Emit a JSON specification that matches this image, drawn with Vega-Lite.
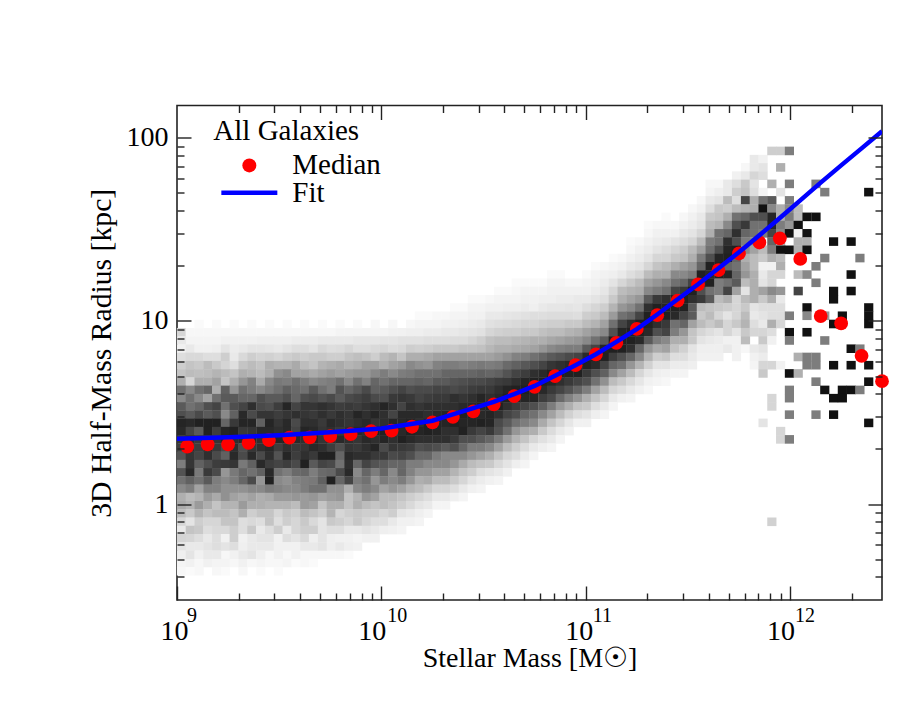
{"$schema":"https://vega.github.io/schema/vega-lite/v6.json","width":705,"height":494.5,"autosize":{"type":"none"},"padding":{"left":177,"top":105.5,"right":31,"bottom":106},"config":{"view":{"stroke":"#222","strokeWidth":1.6},"font":"Liberation Serif"},"resolve":{"axis":{"x":"independent","y":"independent"}},"layer":[{"data":{"values":[
{"x":9.022,"y":0.938,"d":15},{"x":9.065,"y":0.938,"d":3},{"x":9.108,"y":0.938,"d":3},{"x":9.151,"y":0.938,"d":3},{"x":9.194,"y":0.938,"d":3},{"x":9.237,"y":0.938,"d":3},{"x":9.28,"y":0.938,"d":3},{"x":9.323,"y":0.938,"d":3},{"x":9.366,"y":0.938,"d":3},{"x":9.41,"y":0.938,"d":3},{"x":9.453,"y":0.938,"d":3},{"x":9.496,"y":0.938,"d":3},{"x":9.539,"y":0.938,"d":3},{"x":9.582,"y":0.938,"d":3},{"x":9.625,"y":0.938,"d":3},{"x":9.668,"y":0.938,"d":3},{"x":9.712,"y":0.938,"d":3},{"x":9.755,"y":0.938,"d":3},{"x":9.798,"y":0.938,"d":4},{"x":9.841,"y":0.938,"d":4},{"x":9.884,"y":0.938,"d":4},{"x":9.927,"y":0.938,"d":4},{"x":9.97,"y":0.938,"d":4},{"x":10.013,"y":0.938,"d":4},{"x":10.056,"y":0.938,"d":5},{"x":10.1,"y":0.938,"d":5},{"x":10.143,"y":0.938,"d":6},{"x":10.186,"y":0.938,"d":6},{"x":10.229,"y":0.938,"d":7},{"x":10.272,"y":0.938,"d":7},
{"x":9.108,"y":0.983,"d":2},{"x":9.194,"y":0.983,"d":2},{"x":9.28,"y":0.983,"d":2},{"x":9.366,"y":0.983,"d":2},{"x":9.453,"y":0.983,"d":2},{"x":9.539,"y":0.983,"d":2},{"x":9.625,"y":0.983,"d":2},{"x":9.712,"y":0.983,"d":2},{"x":9.798,"y":0.983,"d":2},{"x":9.884,"y":0.983,"d":2},{"x":9.97,"y":0.983,"d":3},{"x":10.056,"y":0.983,"d":3},{"x":10.143,"y":0.983,"d":3},{"x":10.186,"y":0.983,"d":4},{"x":10.229,"y":0.983,"d":4},{"x":10.272,"y":0.983,"d":4},
{"x":10.186,"y":1.028,"d":2},{"x":10.229,"y":1.028,"d":2},{"x":10.272,"y":1.028,"d":3},{"x":10.315,"y":1.028,"d":3},{"x":10.358,"y":1.073,"d":2},{"x":10.401,"y":1.073,"d":2},{"x":10.445,"y":1.118,"d":2},{"x":10.488,"y":1.118,"d":2},{"x":10.531,"y":1.118,"d":3},{"x":10.574,"y":1.163,"d":2},{"x":10.617,"y":1.163,"d":2},{"x":10.66,"y":1.208,"d":2},{"x":10.703,"y":1.208,"d":2},{"x":10.746,"y":1.208,"d":2},{"x":10.79,"y":1.208,"d":2},{"x":10.833,"y":1.253,"d":2},{"x":10.876,"y":1.253,"d":2},{"x":10.919,"y":1.208,"d":3},{"x":10.962,"y":1.208,"d":3},{"x":11.005,"y":1.253,"d":2},{"x":11.048,"y":1.298,"d":2},{"x":11.135,"y":1.343,"d":2},{"x":11.221,"y":1.433,"d":2},{"x":11.307,"y":1.523,"d":2},{"x":11.393,"y":1.568,"d":2},{"x":11.437,"y":1.478,"d":5},{"x":11.437,"y":1.523,"d":3},{"x":11.48,"y":1.523,"d":5},{"x":11.48,"y":1.568,"d":3},{"x":11.523,"y":1.613,"d":3},{"x":11.566,"y":1.658,"d":3},{"x":11.609,"y":1.748,"d":3},{"x":11.652,"y":1.748,"d":3},
{"x":9.065,"y":0.893,"d":4},{"x":9.108,"y":0.893,"d":4},{"x":9.151,"y":0.893,"d":4},{"x":9.194,"y":0.893,"d":4},{"x":9.237,"y":0.893,"d":5},{"x":9.28,"y":0.893,"d":5},{"x":9.323,"y":0.893,"d":5},{"x":9.366,"y":0.893,"d":5},
{"x":9.237,"y":-0.277,"d":3},{"x":9.453,"y":-0.277,"d":3},{"x":9.539,"y":-0.277,"d":3},{"x":9.625,"y":-0.277,"d":3},{"x":9.668,"y":-0.277,"d":3},{"x":9.712,"y":-0.277,"d":3},{"x":9.755,"y":-0.277,"d":3},{"x":9.798,"y":-0.277,"d":3},{"x":9.841,"y":-0.277,"d":2},
{"x":9.022,"y":-0.322,"d":4},{"x":9.065,"y":-0.322,"d":5},{"x":9.108,"y":-0.322,"d":3},{"x":9.151,"y":-0.322,"d":5},{"x":9.194,"y":-0.322,"d":4},{"x":9.237,"y":-0.322,"d":4},{"x":9.28,"y":-0.322,"d":3},{"x":9.323,"y":-0.322,"d":5},{"x":9.366,"y":-0.322,"d":3},{"x":9.41,"y":-0.322,"d":4},{"x":9.453,"y":-0.322,"d":3},{"x":9.496,"y":-0.322,"d":3},{"x":9.539,"y":-0.322,"d":4},{"x":9.582,"y":-0.322,"d":2},{"x":9.625,"y":-0.322,"d":3},{"x":9.668,"y":-0.322,"d":2},
{"x":9.022,"y":-0.367,"d":3},{"x":9.065,"y":-0.367,"d":2},{"x":9.108,"y":-0.367,"d":3},{"x":9.194,"y":-0.367,"d":3},{"x":9.237,"y":-0.367,"d":2},{"x":9.323,"y":-0.367,"d":3},{"x":9.41,"y":-0.367,"d":2},{"x":9.496,"y":-0.367,"d":2},
{"x":9.41,"y":0.893,"d":6},{"x":9.453,"y":0.893,"d":6},{"x":9.496,"y":0.893,"d":6},{"x":9.539,"y":0.893,"d":6},{"x":9.582,"y":0.893,"d":7},{"x":9.625,"y":0.893,"d":7},{"x":9.668,"y":0.893,"d":7},{"x":9.712,"y":0.893,"d":8},{"x":9.755,"y":0.893,"d":8},{"x":9.798,"y":0.893,"d":8},{"x":9.841,"y":0.893,"d":8},{"x":9.884,"y":0.893,"d":9},{"x":9.927,"y":0.893,"d":9},{"x":9.97,"y":0.893,"d":9},{"x":10.013,"y":0.893,"d":10},{"x":10.056,"y":0.893,"d":10},{"x":10.1,"y":0.893,"d":11},{"x":10.143,"y":0.893,"d":11},{"x":10.186,"y":0.893,"d":11},{"x":10.229,"y":0.893,"d":12},{"x":10.272,"y":0.893,"d":12},{"x":9.022,"y":0.893,"d":8},
{"x":9.022,"y":0.848,"d":5},{"x":9.065,"y":0.848,"d":8},{"x":9.108,"y":0.848,"d":5},{"x":9.151,"y":0.848,"d":5},{"x":9.194,"y":0.848,"d":6},{"x":9.237,"y":0.848,"d":10},{"x":9.28,"y":0.848,"d":7},{"x":9.323,"y":0.848,"d":8},{"x":9.366,"y":0.848,"d":10},{"x":9.41,"y":0.848,"d":10},{"x":9.453,"y":0.848,"d":9},{"x":9.496,"y":0.848,"d":8},{"x":9.539,"y":0.848,"d":10},{"x":9.582,"y":0.848,"d":12},{"x":9.625,"y":0.848,"d":12},{"x":9.668,"y":0.848,"d":10},{"x":9.712,"y":0.848,"d":14},{"x":9.755,"y":0.848,"d":12},{"x":9.798,"y":0.848,"d":13},{"x":9.841,"y":0.848,"d":15},{"x":9.884,"y":0.848,"d":12},{"x":9.927,"y":0.848,"d":12},{"x":9.97,"y":0.848,"d":14},{"x":10.013,"y":0.848,"d":15},{"x":10.056,"y":0.848,"d":13},{"x":10.1,"y":0.848,"d":14},{"x":10.143,"y":0.848,"d":18},{"x":10.186,"y":0.848,"d":17},{"x":10.229,"y":0.848,"d":18},{"x":10.272,"y":0.848,"d":20},
{"x":9.022,"y":0.803,"d":12},{"x":9.065,"y":0.803,"d":14},{"x":9.108,"y":0.803,"d":14},{"x":9.151,"y":0.803,"d":12},{"x":9.194,"y":0.803,"d":12},{"x":9.237,"y":0.803,"d":18},{"x":9.28,"y":0.803,"d":8},{"x":9.323,"y":0.803,"d":14},{"x":9.366,"y":0.803,"d":18},{"x":9.41,"y":0.803,"d":16},{"x":9.453,"y":0.803,"d":17},{"x":9.496,"y":0.803,"d":15},{"x":9.539,"y":0.803,"d":18},{"x":9.582,"y":0.803,"d":20},{"x":9.625,"y":0.803,"d":18},{"x":9.668,"y":0.803,"d":20},{"x":9.712,"y":0.803,"d":20},{"x":9.755,"y":0.803,"d":18},{"x":9.798,"y":0.803,"d":18},{"x":9.841,"y":0.803,"d":22},{"x":9.884,"y":0.803,"d":24},{"x":9.927,"y":0.803,"d":22},{"x":9.97,"y":0.803,"d":18},{"x":10.013,"y":0.803,"d":25},{"x":10.056,"y":0.803,"d":28},{"x":10.1,"y":0.803,"d":22},{"x":10.143,"y":0.803,"d":30},{"x":10.186,"y":0.803,"d":30},{"x":10.229,"y":0.803,"d":32},{"x":10.272,"y":0.803,"d":35},
{"x":9.022,"y":0.758,"d":18},{"x":9.065,"y":0.758,"d":22},{"x":9.108,"y":0.758,"d":20},{"x":9.151,"y":0.758,"d":25},{"x":9.194,"y":0.758,"d":20},{"x":9.237,"y":0.758,"d":16},{"x":9.28,"y":0.758,"d":12},{"x":9.323,"y":0.758,"d":22},{"x":9.366,"y":0.758,"d":25},{"x":9.41,"y":0.758,"d":22},{"x":9.453,"y":0.758,"d":30},{"x":9.496,"y":0.758,"d":28},{"x":9.539,"y":0.758,"d":28},{"x":9.582,"y":0.758,"d":32},{"x":9.625,"y":0.758,"d":25},{"x":9.668,"y":0.758,"d":22},{"x":9.712,"y":0.758,"d":28},{"x":9.755,"y":0.758,"d":30},{"x":9.798,"y":0.758,"d":32},{"x":9.841,"y":0.758,"d":28},{"x":9.884,"y":0.758,"d":30},{"x":9.927,"y":0.758,"d":35},{"x":9.97,"y":0.758,"d":35},{"x":10.013,"y":0.758,"d":30},{"x":10.056,"y":0.758,"d":35},{"x":10.1,"y":0.758,"d":38},{"x":10.143,"y":0.758,"d":45},{"x":10.186,"y":0.758,"d":42},{"x":10.229,"y":0.758,"d":40},{"x":10.272,"y":0.758,"d":48},
{"x":9.022,"y":0.713,"d":22},{"x":9.065,"y":0.713,"d":25},{"x":9.108,"y":0.713,"d":24},{"x":9.151,"y":0.713,"d":25},{"x":9.194,"y":0.713,"d":28},{"x":9.237,"y":0.713,"d":25},{"x":9.28,"y":0.713,"d":22},{"x":9.323,"y":0.713,"d":30},{"x":9.366,"y":0.713,"d":28},{"x":9.41,"y":0.713,"d":25},{"x":9.453,"y":0.713,"d":30},{"x":9.496,"y":0.713,"d":42},{"x":9.539,"y":0.713,"d":45},{"x":9.582,"y":0.713,"d":35},{"x":9.625,"y":0.713,"d":35},{"x":9.668,"y":0.713,"d":32},{"x":9.712,"y":0.713,"d":35},{"x":9.755,"y":0.713,"d":38},{"x":9.798,"y":0.713,"d":35},{"x":9.841,"y":0.713,"d":38},{"x":9.884,"y":0.713,"d":40},{"x":9.927,"y":0.713,"d":40},{"x":9.97,"y":0.713,"d":45},{"x":10.013,"y":0.713,"d":50},{"x":10.056,"y":0.713,"d":45},{"x":10.1,"y":0.713,"d":50},{"x":10.143,"y":0.713,"d":52},{"x":10.186,"y":0.713,"d":55},{"x":10.229,"y":0.713,"d":55},{"x":10.272,"y":0.713,"d":55},
{"x":9.022,"y":0.668,"d":30},{"x":9.065,"y":0.668,"d":15},{"x":9.108,"y":0.668,"d":30},{"x":9.151,"y":0.668,"d":30},{"x":9.194,"y":0.668,"d":35},{"x":9.237,"y":0.668,"d":22},{"x":9.28,"y":0.668,"d":30},{"x":9.323,"y":0.668,"d":40},{"x":9.366,"y":0.668,"d":48},{"x":9.41,"y":0.668,"d":32},{"x":9.453,"y":0.668,"d":45},{"x":9.496,"y":0.668,"d":52},{"x":9.539,"y":0.668,"d":50},{"x":9.582,"y":0.668,"d":55},{"x":9.625,"y":0.668,"d":50},{"x":9.668,"y":0.668,"d":45},{"x":9.712,"y":0.668,"d":48},{"x":9.755,"y":0.668,"d":50},{"x":9.798,"y":0.668,"d":55},{"x":9.841,"y":0.668,"d":45},{"x":9.884,"y":0.668,"d":55},{"x":9.927,"y":0.668,"d":48},{"x":9.97,"y":0.668,"d":60},{"x":10.013,"y":0.668,"d":55},{"x":10.056,"y":0.668,"d":60},{"x":10.1,"y":0.668,"d":60},{"x":10.143,"y":0.668,"d":60},{"x":10.186,"y":0.668,"d":62},{"x":10.229,"y":0.668,"d":60},{"x":10.272,"y":0.668,"d":65},
{"x":9.022,"y":0.623,"d":55},{"x":9.065,"y":0.623,"d":45},{"x":9.108,"y":0.623,"d":55},{"x":9.151,"y":0.623,"d":60},{"x":9.194,"y":0.623,"d":30},{"x":9.237,"y":0.623,"d":62},{"x":9.28,"y":0.623,"d":40},{"x":9.323,"y":0.623,"d":55},{"x":9.366,"y":0.623,"d":50},{"x":9.41,"y":0.623,"d":45},{"x":9.453,"y":0.623,"d":50},{"x":9.496,"y":0.623,"d":55},{"x":9.539,"y":0.623,"d":62},{"x":9.582,"y":0.623,"d":58},{"x":9.625,"y":0.623,"d":55},{"x":9.668,"y":0.623,"d":65},{"x":9.712,"y":0.623,"d":55},{"x":9.755,"y":0.623,"d":50},{"x":9.798,"y":0.623,"d":68},{"x":9.841,"y":0.623,"d":60},{"x":9.884,"y":0.623,"d":65},{"x":9.927,"y":0.623,"d":72},{"x":9.97,"y":0.623,"d":62},{"x":10.013,"y":0.623,"d":65},{"x":10.056,"y":0.623,"d":70},{"x":10.1,"y":0.623,"d":75},{"x":10.143,"y":0.623,"d":70},{"x":10.186,"y":0.623,"d":72},{"x":10.229,"y":0.623,"d":72},{"x":10.272,"y":0.623,"d":75},
{"x":9.022,"y":0.578,"d":45},{"x":9.065,"y":0.578,"d":55},{"x":9.108,"y":0.578,"d":45},{"x":9.151,"y":0.578,"d":35},{"x":9.194,"y":0.578,"d":55},{"x":9.237,"y":0.578,"d":65},{"x":9.28,"y":0.578,"d":65},{"x":9.323,"y":0.578,"d":60},{"x":9.366,"y":0.578,"d":60},{"x":9.41,"y":0.578,"d":70},{"x":9.453,"y":0.578,"d":65},{"x":9.496,"y":0.578,"d":65},{"x":9.539,"y":0.578,"d":70},{"x":9.582,"y":0.578,"d":60},{"x":9.625,"y":0.578,"d":70},{"x":9.668,"y":0.578,"d":72},{"x":9.712,"y":0.578,"d":68},{"x":9.755,"y":0.578,"d":72},{"x":9.798,"y":0.578,"d":65},{"x":9.841,"y":0.578,"d":72},{"x":9.884,"y":0.578,"d":75},{"x":9.927,"y":0.578,"d":78},{"x":9.97,"y":0.578,"d":72},{"x":10.013,"y":0.578,"d":70},{"x":10.056,"y":0.578,"d":80},{"x":10.1,"y":0.578,"d":82},{"x":10.143,"y":0.578,"d":80},{"x":10.186,"y":0.578,"d":75},{"x":10.229,"y":0.578,"d":78},{"x":10.272,"y":0.578,"d":80},
{"x":9.022,"y":0.533,"d":65},{"x":9.065,"y":0.533,"d":55},{"x":9.108,"y":0.533,"d":60},{"x":9.151,"y":0.533,"d":70},{"x":9.194,"y":0.533,"d":75},{"x":9.237,"y":0.533,"d":55},{"x":9.28,"y":0.533,"d":70},{"x":9.323,"y":0.533,"d":75},{"x":9.366,"y":0.533,"d":85},{"x":9.41,"y":0.533,"d":72},{"x":9.453,"y":0.533,"d":70},{"x":9.496,"y":0.533,"d":78},{"x":9.539,"y":0.533,"d":90},{"x":9.582,"y":0.533,"d":75},{"x":9.625,"y":0.533,"d":82},{"x":9.668,"y":0.533,"d":82},{"x":9.712,"y":0.533,"d":85},{"x":9.755,"y":0.533,"d":82},{"x":9.798,"y":0.533,"d":78},{"x":9.841,"y":0.533,"d":80},{"x":9.884,"y":0.533,"d":78},{"x":9.927,"y":0.533,"d":82},{"x":9.97,"y":0.533,"d":85},{"x":10.013,"y":0.533,"d":90},{"x":10.056,"y":0.533,"d":85},{"x":10.1,"y":0.533,"d":75},{"x":10.143,"y":0.533,"d":85},{"x":10.186,"y":0.533,"d":82},{"x":10.229,"y":0.533,"d":85},{"x":10.272,"y":0.533,"d":85},
{"x":9.022,"y":0.488,"d":70},{"x":9.065,"y":0.488,"d":65},{"x":9.108,"y":0.488,"d":72},{"x":9.151,"y":0.488,"d":65},{"x":9.194,"y":0.488,"d":70},{"x":9.237,"y":0.488,"d":45},{"x":9.28,"y":0.488,"d":62},{"x":9.323,"y":0.488,"d":88},{"x":9.366,"y":0.488,"d":72},{"x":9.41,"y":0.488,"d":82},{"x":9.453,"y":0.488,"d":82},{"x":9.496,"y":0.488,"d":78},{"x":9.539,"y":0.488,"d":82},{"x":9.582,"y":0.488,"d":85},{"x":9.625,"y":0.488,"d":82},{"x":9.668,"y":0.488,"d":80},{"x":9.712,"y":0.488,"d":85},{"x":9.755,"y":0.488,"d":80},{"x":9.798,"y":0.488,"d":85},{"x":9.841,"y":0.488,"d":82},{"x":9.884,"y":0.488,"d":90},{"x":9.927,"y":0.488,"d":85},{"x":9.97,"y":0.488,"d":90},{"x":10.013,"y":0.488,"d":85},{"x":10.056,"y":0.488,"d":75},{"x":10.1,"y":0.488,"d":88},{"x":10.143,"y":0.488,"d":88},{"x":10.186,"y":0.488,"d":88},{"x":10.229,"y":0.488,"d":85},{"x":10.272,"y":0.488,"d":88},
{"x":9.022,"y":0.443,"d":90},{"x":9.065,"y":0.443,"d":88},{"x":9.108,"y":0.443,"d":92},{"x":9.151,"y":0.443,"d":92},{"x":9.194,"y":0.443,"d":92},{"x":9.237,"y":0.443,"d":60},{"x":9.28,"y":0.443,"d":80},{"x":9.323,"y":0.443,"d":90},{"x":9.366,"y":0.443,"d":90},{"x":9.41,"y":0.443,"d":62},{"x":9.453,"y":0.443,"d":90},{"x":9.496,"y":0.443,"d":82},{"x":9.539,"y":0.443,"d":88},{"x":9.582,"y":0.443,"d":72},{"x":9.625,"y":0.443,"d":85},{"x":9.668,"y":0.443,"d":85},{"x":9.712,"y":0.443,"d":80},{"x":9.755,"y":0.443,"d":88},{"x":9.798,"y":0.443,"d":85},{"x":9.841,"y":0.443,"d":82},{"x":9.884,"y":0.443,"d":85},{"x":9.927,"y":0.443,"d":88},{"x":9.97,"y":0.443,"d":82},{"x":10.013,"y":0.443,"d":85},{"x":10.056,"y":0.443,"d":90},{"x":10.1,"y":0.443,"d":88},{"x":10.143,"y":0.443,"d":90},{"x":10.186,"y":0.443,"d":85},{"x":10.229,"y":0.443,"d":92},{"x":10.272,"y":0.443,"d":90},
{"x":9.022,"y":0.398,"d":88},{"x":9.065,"y":0.398,"d":75},{"x":9.108,"y":0.398,"d":65},{"x":9.151,"y":0.398,"d":92},{"x":9.194,"y":0.398,"d":78},{"x":9.237,"y":0.398,"d":90},{"x":9.28,"y":0.398,"d":92},{"x":9.323,"y":0.398,"d":80},{"x":9.366,"y":0.398,"d":82},{"x":9.41,"y":0.398,"d":88},{"x":9.453,"y":0.398,"d":88},{"x":9.496,"y":0.398,"d":85},{"x":9.539,"y":0.398,"d":88},{"x":9.582,"y":0.398,"d":75},{"x":9.625,"y":0.398,"d":90},{"x":9.668,"y":0.398,"d":88},{"x":9.712,"y":0.398,"d":82},{"x":9.755,"y":0.398,"d":85},{"x":9.798,"y":0.398,"d":80},{"x":9.841,"y":0.398,"d":85},{"x":9.884,"y":0.398,"d":88},{"x":9.927,"y":0.398,"d":85},{"x":9.97,"y":0.398,"d":92},{"x":10.013,"y":0.398,"d":92},{"x":10.056,"y":0.398,"d":90},{"x":10.1,"y":0.398,"d":88},{"x":10.143,"y":0.398,"d":92},{"x":10.186,"y":0.398,"d":90},{"x":10.229,"y":0.398,"d":92},{"x":10.272,"y":0.398,"d":90},
{"x":9.022,"y":0.353,"d":82},{"x":9.065,"y":0.353,"d":85},{"x":9.108,"y":0.353,"d":80},{"x":9.151,"y":0.353,"d":88},{"x":9.194,"y":0.353,"d":82},{"x":9.237,"y":0.353,"d":90},{"x":9.28,"y":0.353,"d":85},{"x":9.323,"y":0.353,"d":88},{"x":9.366,"y":0.353,"d":90},{"x":9.41,"y":0.353,"d":85},{"x":9.453,"y":0.353,"d":88},{"x":9.496,"y":0.353,"d":90},{"x":9.539,"y":0.353,"d":92},{"x":9.582,"y":0.353,"d":88},{"x":9.625,"y":0.353,"d":85},{"x":9.668,"y":0.353,"d":90},{"x":9.712,"y":0.353,"d":82},{"x":9.755,"y":0.353,"d":85},{"x":9.798,"y":0.353,"d":88},{"x":9.841,"y":0.353,"d":85},{"x":9.884,"y":0.353,"d":82},{"x":9.927,"y":0.353,"d":88},{"x":9.97,"y":0.353,"d":85},{"x":10.013,"y":0.353,"d":90},{"x":10.056,"y":0.353,"d":85},{"x":10.1,"y":0.353,"d":92},{"x":10.143,"y":0.353,"d":88},{"x":10.186,"y":0.353,"d":85},{"x":10.229,"y":0.353,"d":85},{"x":10.272,"y":0.353,"d":85},
{"x":9.022,"y":0.308,"d":78},{"x":9.065,"y":0.308,"d":85},{"x":9.108,"y":0.308,"d":78},{"x":9.151,"y":0.308,"d":88},{"x":9.194,"y":0.308,"d":80},{"x":9.237,"y":0.308,"d":72},{"x":9.28,"y":0.308,"d":85},{"x":9.323,"y":0.308,"d":70},{"x":9.366,"y":0.308,"d":82},{"x":9.41,"y":0.308,"d":85},{"x":9.453,"y":0.308,"d":88},{"x":9.496,"y":0.308,"d":78},{"x":9.539,"y":0.308,"d":85},{"x":9.582,"y":0.308,"d":80},{"x":9.625,"y":0.308,"d":82},{"x":9.668,"y":0.308,"d":88},{"x":9.712,"y":0.308,"d":85},{"x":9.755,"y":0.308,"d":78},{"x":9.798,"y":0.308,"d":70},{"x":9.841,"y":0.308,"d":82},{"x":9.884,"y":0.308,"d":80},{"x":9.927,"y":0.308,"d":85},{"x":9.97,"y":0.308,"d":90},{"x":10.013,"y":0.308,"d":72},{"x":10.056,"y":0.308,"d":82},{"x":10.1,"y":0.308,"d":80},{"x":10.143,"y":0.308,"d":78},{"x":10.186,"y":0.308,"d":70},{"x":10.229,"y":0.308,"d":72},{"x":10.272,"y":0.308,"d":70},
{"x":9.022,"y":0.263,"d":68},{"x":9.065,"y":0.263,"d":82},{"x":9.108,"y":0.263,"d":75},{"x":9.151,"y":0.263,"d":85},{"x":9.194,"y":0.263,"d":72},{"x":9.237,"y":0.263,"d":62},{"x":9.28,"y":0.263,"d":88},{"x":9.323,"y":0.263,"d":72},{"x":9.366,"y":0.263,"d":88},{"x":9.41,"y":0.263,"d":72},{"x":9.453,"y":0.263,"d":85},{"x":9.496,"y":0.263,"d":68},{"x":9.539,"y":0.263,"d":90},{"x":9.582,"y":0.263,"d":78},{"x":9.625,"y":0.263,"d":85},{"x":9.668,"y":0.263,"d":80},{"x":9.712,"y":0.263,"d":92},{"x":9.755,"y":0.263,"d":92},{"x":9.798,"y":0.263,"d":60},{"x":9.841,"y":0.263,"d":88},{"x":9.884,"y":0.263,"d":85},{"x":9.927,"y":0.263,"d":85},{"x":9.97,"y":0.263,"d":80},{"x":10.013,"y":0.263,"d":80},{"x":10.056,"y":0.263,"d":72},{"x":10.1,"y":0.263,"d":75},{"x":10.143,"y":0.263,"d":70},{"x":10.186,"y":0.263,"d":60},{"x":10.229,"y":0.263,"d":60},{"x":10.272,"y":0.263,"d":50},
{"x":9.022,"y":0.218,"d":50},{"x":9.065,"y":0.218,"d":82},{"x":9.108,"y":0.218,"d":62},{"x":9.151,"y":0.218,"d":70},{"x":9.194,"y":0.218,"d":78},{"x":9.237,"y":0.218,"d":80},{"x":9.28,"y":0.218,"d":82},{"x":9.323,"y":0.218,"d":52},{"x":9.366,"y":0.218,"d":62},{"x":9.41,"y":0.218,"d":88},{"x":9.453,"y":0.218,"d":78},{"x":9.496,"y":0.218,"d":75},{"x":9.539,"y":0.218,"d":78},{"x":9.582,"y":0.218,"d":72},{"x":9.625,"y":0.218,"d":92},{"x":9.668,"y":0.218,"d":65},{"x":9.712,"y":0.218,"d":75},{"x":9.755,"y":0.218,"d":72},{"x":9.798,"y":0.218,"d":55},{"x":9.841,"y":0.218,"d":85},{"x":9.884,"y":0.218,"d":60},{"x":9.927,"y":0.218,"d":75},{"x":9.97,"y":0.218,"d":68},{"x":10.013,"y":0.218,"d":65},{"x":10.056,"y":0.218,"d":60},{"x":10.1,"y":0.218,"d":60},{"x":10.143,"y":0.218,"d":50},{"x":10.186,"y":0.218,"d":50},{"x":10.229,"y":0.218,"d":45},{"x":10.272,"y":0.218,"d":45},
{"x":9.022,"y":0.173,"d":68},{"x":9.065,"y":0.173,"d":88},{"x":9.108,"y":0.173,"d":52},{"x":9.151,"y":0.173,"d":80},{"x":9.194,"y":0.173,"d":72},{"x":9.237,"y":0.173,"d":40},{"x":9.28,"y":0.173,"d":52},{"x":9.323,"y":0.173,"d":60},{"x":9.366,"y":0.173,"d":55},{"x":9.41,"y":0.173,"d":62},{"x":9.453,"y":0.173,"d":88},{"x":9.496,"y":0.173,"d":55},{"x":9.539,"y":0.173,"d":50},{"x":9.582,"y":0.173,"d":58},{"x":9.625,"y":0.173,"d":60},{"x":9.668,"y":0.173,"d":50},{"x":9.712,"y":0.173,"d":58},{"x":9.755,"y":0.173,"d":60},{"x":9.798,"y":0.173,"d":72},{"x":9.841,"y":0.173,"d":88},{"x":9.884,"y":0.173,"d":45},{"x":9.927,"y":0.173,"d":60},{"x":9.97,"y":0.173,"d":50},{"x":10.013,"y":0.173,"d":60},{"x":10.056,"y":0.173,"d":45},{"x":10.1,"y":0.173,"d":60},{"x":10.143,"y":0.173,"d":48},{"x":10.186,"y":0.173,"d":40},{"x":10.229,"y":0.173,"d":40},{"x":10.272,"y":0.173,"d":35},
{"x":9.022,"y":0.128,"d":55},{"x":9.065,"y":0.128,"d":62},{"x":9.108,"y":0.128,"d":55},{"x":9.151,"y":0.128,"d":65},{"x":9.194,"y":0.128,"d":50},{"x":9.237,"y":0.128,"d":45},{"x":9.28,"y":0.128,"d":50},{"x":9.323,"y":0.128,"d":60},{"x":9.366,"y":0.128,"d":72},{"x":9.41,"y":0.128,"d":40},{"x":9.453,"y":0.128,"d":92},{"x":9.496,"y":0.128,"d":45},{"x":9.539,"y":0.128,"d":42},{"x":9.582,"y":0.128,"d":48},{"x":9.625,"y":0.128,"d":50},{"x":9.668,"y":0.128,"d":52},{"x":9.712,"y":0.128,"d":62},{"x":9.755,"y":0.128,"d":92},{"x":9.798,"y":0.128,"d":60},{"x":9.841,"y":0.128,"d":75},{"x":9.884,"y":0.128,"d":50},{"x":9.927,"y":0.128,"d":55},{"x":9.97,"y":0.128,"d":40},{"x":10.013,"y":0.128,"d":50},{"x":10.056,"y":0.128,"d":45},{"x":10.1,"y":0.128,"d":50},{"x":10.143,"y":0.128,"d":40},{"x":10.186,"y":0.128,"d":30},{"x":10.229,"y":0.128,"d":32},{"x":10.272,"y":0.128,"d":25},
{"x":9.022,"y":0.083,"d":45},{"x":9.065,"y":0.083,"d":50},{"x":9.108,"y":0.083,"d":35},{"x":9.151,"y":0.083,"d":48},{"x":9.194,"y":0.083,"d":48},{"x":9.237,"y":0.083,"d":42},{"x":9.28,"y":0.083,"d":42},{"x":9.323,"y":0.083,"d":42},{"x":9.366,"y":0.083,"d":45},{"x":9.41,"y":0.083,"d":45},{"x":9.453,"y":0.083,"d":50},{"x":9.496,"y":0.083,"d":48},{"x":9.539,"y":0.083,"d":45},{"x":9.582,"y":0.083,"d":45},{"x":9.625,"y":0.083,"d":50},{"x":9.668,"y":0.083,"d":55},{"x":9.712,"y":0.083,"d":55},{"x":9.755,"y":0.083,"d":42},{"x":9.798,"y":0.083,"d":42},{"x":9.841,"y":0.083,"d":30},{"x":9.884,"y":0.083,"d":45},{"x":9.927,"y":0.083,"d":50},{"x":9.97,"y":0.083,"d":45},{"x":10.013,"y":0.083,"d":35},{"x":10.056,"y":0.083,"d":40},{"x":10.1,"y":0.083,"d":35},{"x":10.143,"y":0.083,"d":28},{"x":10.186,"y":0.083,"d":25},{"x":10.229,"y":0.083,"d":20},{"x":10.272,"y":0.083,"d":15},
{"x":9.022,"y":0.038,"d":30},{"x":9.065,"y":0.038,"d":25},{"x":9.108,"y":0.038,"d":28},{"x":9.151,"y":0.038,"d":38},{"x":9.194,"y":0.038,"d":32},{"x":9.237,"y":0.038,"d":42},{"x":9.28,"y":0.038,"d":35},{"x":9.323,"y":0.038,"d":32},{"x":9.366,"y":0.038,"d":35},{"x":9.41,"y":0.038,"d":30},{"x":9.453,"y":0.038,"d":32},{"x":9.496,"y":0.038,"d":38},{"x":9.539,"y":0.038,"d":38},{"x":9.582,"y":0.038,"d":40},{"x":9.625,"y":0.038,"d":38},{"x":9.668,"y":0.038,"d":40},{"x":9.712,"y":0.038,"d":35},{"x":9.755,"y":0.038,"d":38},{"x":9.798,"y":0.038,"d":40},{"x":9.841,"y":0.038,"d":22},{"x":9.884,"y":0.038,"d":28},{"x":9.927,"y":0.038,"d":40},{"x":9.97,"y":0.038,"d":35},{"x":10.013,"y":0.038,"d":25},{"x":10.056,"y":0.038,"d":25},{"x":10.1,"y":0.038,"d":22},{"x":10.143,"y":0.038,"d":18},{"x":10.186,"y":0.038,"d":15},{"x":10.229,"y":0.038,"d":12},{"x":10.272,"y":0.038,"d":8},
{"x":9.022,"y":-0.007,"d":32},{"x":9.065,"y":-0.007,"d":28},{"x":9.108,"y":-0.007,"d":38},{"x":9.151,"y":-0.007,"d":30},{"x":9.194,"y":-0.007,"d":22},{"x":9.237,"y":-0.007,"d":28},{"x":9.28,"y":-0.007,"d":28},{"x":9.323,"y":-0.007,"d":38},{"x":9.366,"y":-0.007,"d":30},{"x":9.41,"y":-0.007,"d":30},{"x":9.453,"y":-0.007,"d":28},{"x":9.496,"y":-0.007,"d":28},{"x":9.539,"y":-0.007,"d":28},{"x":9.582,"y":-0.007,"d":25},{"x":9.625,"y":-0.007,"d":38},{"x":9.668,"y":-0.007,"d":35},{"x":9.712,"y":-0.007,"d":22},{"x":9.755,"y":-0.007,"d":30},{"x":9.798,"y":-0.007,"d":30},{"x":9.841,"y":-0.007,"d":22},{"x":9.884,"y":-0.007,"d":30},{"x":9.927,"y":-0.007,"d":25},{"x":9.97,"y":-0.007,"d":22},{"x":10.013,"y":-0.007,"d":25},{"x":10.056,"y":-0.007,"d":22},{"x":10.1,"y":-0.007,"d":18},{"x":10.143,"y":-0.007,"d":14},{"x":10.186,"y":-0.007,"d":10},{"x":10.229,"y":-0.007,"d":8},{"x":10.272,"y":-0.007,"d":4},
{"x":9.022,"y":-0.052,"d":25},{"x":9.065,"y":-0.052,"d":20},{"x":9.108,"y":-0.052,"d":28},{"x":9.151,"y":-0.052,"d":22},{"x":9.194,"y":-0.052,"d":25},{"x":9.237,"y":-0.052,"d":25},{"x":9.28,"y":-0.052,"d":22},{"x":9.323,"y":-0.052,"d":30},{"x":9.366,"y":-0.052,"d":18},{"x":9.41,"y":-0.052,"d":22},{"x":9.453,"y":-0.052,"d":22},{"x":9.496,"y":-0.052,"d":15},{"x":9.539,"y":-0.052,"d":20},{"x":9.582,"y":-0.052,"d":18},{"x":9.625,"y":-0.052,"d":25},{"x":9.668,"y":-0.052,"d":22},{"x":9.712,"y":-0.052,"d":18},{"x":9.755,"y":-0.052,"d":28},{"x":9.798,"y":-0.052,"d":15},{"x":9.841,"y":-0.052,"d":18},{"x":9.884,"y":-0.052,"d":20},{"x":9.927,"y":-0.052,"d":18},{"x":9.97,"y":-0.052,"d":18},{"x":10.013,"y":-0.052,"d":15},{"x":10.056,"y":-0.052,"d":18},{"x":10.1,"y":-0.052,"d":10},{"x":10.143,"y":-0.052,"d":8},{"x":10.186,"y":-0.052,"d":6},{"x":10.229,"y":-0.052,"d":4},
{"x":9.022,"y":-0.097,"d":15},{"x":9.065,"y":-0.097,"d":10},{"x":9.108,"y":-0.097,"d":18},{"x":9.151,"y":-0.097,"d":15},{"x":9.194,"y":-0.097,"d":15},{"x":9.237,"y":-0.097,"d":22},{"x":9.28,"y":-0.097,"d":22},{"x":9.323,"y":-0.097,"d":12},{"x":9.366,"y":-0.097,"d":14},{"x":9.41,"y":-0.097,"d":12},{"x":9.453,"y":-0.097,"d":22},{"x":9.496,"y":-0.097,"d":12},{"x":9.539,"y":-0.097,"d":18},{"x":9.582,"y":-0.097,"d":15},{"x":9.625,"y":-0.097,"d":20},{"x":9.668,"y":-0.097,"d":14},{"x":9.712,"y":-0.097,"d":10},{"x":9.755,"y":-0.097,"d":20},{"x":9.798,"y":-0.097,"d":18},{"x":9.841,"y":-0.097,"d":15},{"x":9.884,"y":-0.097,"d":20},{"x":9.927,"y":-0.097,"d":15},{"x":9.97,"y":-0.097,"d":12},{"x":10.013,"y":-0.097,"d":12},{"x":10.056,"y":-0.097,"d":8},{"x":10.1,"y":-0.097,"d":5},{"x":10.143,"y":-0.097,"d":5},{"x":10.186,"y":-0.097,"d":4},
{"x":9.022,"y":-0.142,"d":8},{"x":9.065,"y":-0.142,"d":22},{"x":9.108,"y":-0.142,"d":20},{"x":9.151,"y":-0.142,"d":12},{"x":9.194,"y":-0.142,"d":14},{"x":9.237,"y":-0.142,"d":14},{"x":9.28,"y":-0.142,"d":18},{"x":9.323,"y":-0.142,"d":12},{"x":9.366,"y":-0.142,"d":20},{"x":9.41,"y":-0.142,"d":8},{"x":9.453,"y":-0.142,"d":12},{"x":9.496,"y":-0.142,"d":18},{"x":9.539,"y":-0.142,"d":8},{"x":9.582,"y":-0.142,"d":15},{"x":9.625,"y":-0.142,"d":18},{"x":9.668,"y":-0.142,"d":18},{"x":9.712,"y":-0.142,"d":10},{"x":9.755,"y":-0.142,"d":12},{"x":9.798,"y":-0.142,"d":12},{"x":9.841,"y":-0.142,"d":8},{"x":9.884,"y":-0.142,"d":8},{"x":9.927,"y":-0.142,"d":10},{"x":9.97,"y":-0.142,"d":8},{"x":10.013,"y":-0.142,"d":6},{"x":10.056,"y":-0.142,"d":5},{"x":10.1,"y":-0.142,"d":4},
{"x":9.022,"y":-0.187,"d":16},{"x":9.065,"y":-0.187,"d":15},{"x":9.108,"y":-0.187,"d":12},{"x":9.151,"y":-0.187,"d":8},{"x":9.194,"y":-0.187,"d":12},{"x":9.237,"y":-0.187,"d":5},{"x":9.28,"y":-0.187,"d":18},{"x":9.323,"y":-0.187,"d":5},{"x":9.366,"y":-0.187,"d":8},{"x":9.41,"y":-0.187,"d":10},{"x":9.453,"y":-0.187,"d":10},{"x":9.496,"y":-0.187,"d":5},{"x":9.539,"y":-0.187,"d":12},{"x":9.582,"y":-0.187,"d":10},{"x":9.625,"y":-0.187,"d":14},{"x":9.668,"y":-0.187,"d":6},{"x":9.712,"y":-0.187,"d":10},{"x":9.755,"y":-0.187,"d":6},{"x":9.798,"y":-0.187,"d":5},{"x":9.841,"y":-0.187,"d":5},{"x":9.884,"y":-0.187,"d":4},{"x":9.927,"y":-0.187,"d":5},{"x":9.97,"y":-0.187,"d":5},
{"x":9.022,"y":-0.232,"d":10},{"x":9.065,"y":-0.232,"d":8},{"x":9.108,"y":-0.232,"d":8},{"x":9.151,"y":-0.232,"d":10},{"x":9.194,"y":-0.232,"d":12},{"x":9.237,"y":-0.232,"d":10},{"x":9.28,"y":-0.232,"d":12},{"x":9.323,"y":-0.232,"d":6},{"x":9.366,"y":-0.232,"d":8},{"x":9.41,"y":-0.232,"d":8},{"x":9.453,"y":-0.232,"d":8},{"x":9.496,"y":-0.232,"d":5},{"x":9.539,"y":-0.232,"d":5},{"x":9.582,"y":-0.232,"d":5},{"x":9.625,"y":-0.232,"d":8},{"x":9.668,"y":-0.232,"d":8},{"x":9.712,"y":-0.232,"d":10},{"x":9.755,"y":-0.232,"d":6},{"x":9.798,"y":-0.232,"d":8},{"x":9.841,"y":-0.232,"d":6},{"x":9.884,"y":-0.232,"d":5},
{"x":9.022,"y":-0.277,"d":6},{"x":9.065,"y":-0.277,"d":10},{"x":9.108,"y":-0.277,"d":5},{"x":9.151,"y":-0.277,"d":8},{"x":9.194,"y":-0.277,"d":8},{"x":9.28,"y":-0.277,"d":5},{"x":9.323,"y":-0.277,"d":8},{"x":9.366,"y":-0.277,"d":10},{"x":9.41,"y":-0.277,"d":6},{"x":9.496,"y":-0.277,"d":5},{"x":9.582,"y":-0.277,"d":5},
{"x":10.315,"y":0.983,"d":5},{"x":10.315,"y":0.938,"d":8},{"x":10.315,"y":0.893,"d":12},{"x":10.315,"y":0.848,"d":20},{"x":10.315,"y":0.803,"d":35},{"x":10.315,"y":0.758,"d":50},{"x":10.315,"y":0.713,"d":60},{"x":10.315,"y":0.668,"d":65},{"x":10.315,"y":0.623,"d":75},{"x":10.315,"y":0.578,"d":80},{"x":10.315,"y":0.533,"d":85},{"x":10.315,"y":0.488,"d":90},{"x":10.315,"y":0.443,"d":90},{"x":10.315,"y":0.398,"d":85},{"x":10.315,"y":0.353,"d":85},{"x":10.315,"y":0.308,"d":65},{"x":10.315,"y":0.263,"d":45},{"x":10.315,"y":0.218,"d":45},{"x":10.315,"y":0.173,"d":35},{"x":10.315,"y":0.128,"d":25},{"x":10.315,"y":0.083,"d":15},{"x":10.315,"y":0.038,"d":8},{"x":10.315,"y":-0.007,"d":4},
{"x":10.358,"y":1.028,"d":4},{"x":10.358,"y":0.983,"d":5},{"x":10.358,"y":0.938,"d":8},{"x":10.358,"y":0.893,"d":13},{"x":10.358,"y":0.848,"d":20},{"x":10.358,"y":0.803,"d":35},{"x":10.358,"y":0.758,"d":50},{"x":10.358,"y":0.713,"d":60},{"x":10.358,"y":0.668,"d":68},{"x":10.358,"y":0.623,"d":72},{"x":10.358,"y":0.578,"d":85},{"x":10.358,"y":0.533,"d":85},{"x":10.358,"y":0.488,"d":88},{"x":10.358,"y":0.443,"d":92},{"x":10.358,"y":0.398,"d":85},{"x":10.358,"y":0.353,"d":80},{"x":10.358,"y":0.308,"d":70},{"x":10.358,"y":0.263,"d":45},{"x":10.358,"y":0.218,"d":40},{"x":10.358,"y":0.173,"d":28},{"x":10.358,"y":0.128,"d":20},{"x":10.358,"y":0.083,"d":12},{"x":10.358,"y":0.038,"d":6},
{"x":10.401,"y":1.028,"d":4},{"x":10.401,"y":0.983,"d":6},{"x":10.401,"y":0.938,"d":9},{"x":10.401,"y":0.893,"d":13},{"x":10.401,"y":0.848,"d":22},{"x":10.401,"y":0.803,"d":35},{"x":10.401,"y":0.758,"d":48},{"x":10.401,"y":0.713,"d":60},{"x":10.401,"y":0.668,"d":70},{"x":10.401,"y":0.623,"d":75},{"x":10.401,"y":0.578,"d":82},{"x":10.401,"y":0.533,"d":88},{"x":10.401,"y":0.488,"d":92},{"x":10.401,"y":0.443,"d":90},{"x":10.401,"y":0.398,"d":92},{"x":10.401,"y":0.353,"d":70},{"x":10.401,"y":0.308,"d":60},{"x":10.401,"y":0.263,"d":45},{"x":10.401,"y":0.218,"d":32},{"x":10.401,"y":0.173,"d":22},{"x":10.401,"y":0.128,"d":15},{"x":10.401,"y":0.083,"d":8},{"x":10.401,"y":0.038,"d":4},
{"x":10.445,"y":1.073,"d":4},{"x":10.445,"y":1.028,"d":5},{"x":10.445,"y":0.983,"d":7},{"x":10.445,"y":0.938,"d":10},{"x":10.445,"y":0.893,"d":15},{"x":10.445,"y":0.848,"d":22},{"x":10.445,"y":0.803,"d":35},{"x":10.445,"y":0.758,"d":50},{"x":10.445,"y":0.713,"d":60},{"x":10.445,"y":0.668,"d":72},{"x":10.445,"y":0.623,"d":78},{"x":10.445,"y":0.578,"d":85},{"x":10.445,"y":0.533,"d":88},{"x":10.445,"y":0.488,"d":92},{"x":10.445,"y":0.443,"d":90},{"x":10.445,"y":0.398,"d":80},{"x":10.445,"y":0.353,"d":70},{"x":10.445,"y":0.308,"d":50},{"x":10.445,"y":0.263,"d":40},{"x":10.445,"y":0.218,"d":25},{"x":10.445,"y":0.173,"d":18},{"x":10.445,"y":0.128,"d":10},{"x":10.445,"y":0.083,"d":5},
{"x":10.488,"y":1.073,"d":4},{"x":10.488,"y":1.028,"d":5},{"x":10.488,"y":0.983,"d":8},{"x":10.488,"y":0.938,"d":11},{"x":10.488,"y":0.893,"d":18},{"x":10.488,"y":0.848,"d":23},{"x":10.488,"y":0.803,"d":35},{"x":10.488,"y":0.758,"d":52},{"x":10.488,"y":0.713,"d":62},{"x":10.488,"y":0.668,"d":72},{"x":10.488,"y":0.623,"d":80},{"x":10.488,"y":0.578,"d":90},{"x":10.488,"y":0.533,"d":90},{"x":10.488,"y":0.488,"d":88},{"x":10.488,"y":0.443,"d":92},{"x":10.488,"y":0.398,"d":75},{"x":10.488,"y":0.353,"d":65},{"x":10.488,"y":0.308,"d":50},{"x":10.488,"y":0.263,"d":35},{"x":10.488,"y":0.218,"d":22},{"x":10.488,"y":0.173,"d":12},{"x":10.488,"y":0.128,"d":7},{"x":10.488,"y":0.083,"d":4},
{"x":10.531,"y":1.073,"d":5},{"x":10.531,"y":1.028,"d":8},{"x":10.531,"y":0.983,"d":11},{"x":10.531,"y":0.938,"d":15},{"x":10.531,"y":0.893,"d":23},{"x":10.531,"y":0.848,"d":27},{"x":10.531,"y":0.803,"d":35},{"x":10.531,"y":0.758,"d":50},{"x":10.531,"y":0.713,"d":60},{"x":10.531,"y":0.668,"d":75},{"x":10.531,"y":0.623,"d":80},{"x":10.531,"y":0.578,"d":85},{"x":10.531,"y":0.533,"d":92},{"x":10.531,"y":0.488,"d":90},{"x":10.531,"y":0.443,"d":90},{"x":10.531,"y":0.398,"d":80},{"x":10.531,"y":0.353,"d":60},{"x":10.531,"y":0.308,"d":45},{"x":10.531,"y":0.263,"d":30},{"x":10.531,"y":0.218,"d":20},{"x":10.531,"y":0.173,"d":10},{"x":10.531,"y":0.128,"d":5},
{"x":10.574,"y":1.118,"d":4},{"x":10.574,"y":1.073,"d":5},{"x":10.574,"y":1.028,"d":8},{"x":10.574,"y":0.983,"d":12},{"x":10.574,"y":0.938,"d":17},{"x":10.574,"y":0.893,"d":25},{"x":10.574,"y":0.848,"d":30},{"x":10.574,"y":0.803,"d":38},{"x":10.574,"y":0.758,"d":52},{"x":10.574,"y":0.713,"d":62},{"x":10.574,"y":0.668,"d":78},{"x":10.574,"y":0.623,"d":85},{"x":10.574,"y":0.578,"d":88},{"x":10.574,"y":0.533,"d":92},{"x":10.574,"y":0.488,"d":85},{"x":10.574,"y":0.443,"d":72},{"x":10.574,"y":0.398,"d":68},{"x":10.574,"y":0.353,"d":50},{"x":10.574,"y":0.308,"d":35},{"x":10.574,"y":0.263,"d":22},{"x":10.574,"y":0.218,"d":14},{"x":10.574,"y":0.173,"d":8},{"x":10.574,"y":0.128,"d":4},
{"x":10.617,"y":1.118,"d":4},{"x":10.617,"y":1.073,"d":6},{"x":10.617,"y":1.028,"d":9},{"x":10.617,"y":0.983,"d":13},{"x":10.617,"y":0.938,"d":18},{"x":10.617,"y":0.893,"d":25},{"x":10.617,"y":0.848,"d":30},{"x":10.617,"y":0.803,"d":42},{"x":10.617,"y":0.758,"d":58},{"x":10.617,"y":0.713,"d":68},{"x":10.617,"y":0.668,"d":80},{"x":10.617,"y":0.623,"d":90},{"x":10.617,"y":0.578,"d":92},{"x":10.617,"y":0.533,"d":85},{"x":10.617,"y":0.488,"d":75},{"x":10.617,"y":0.443,"d":65},{"x":10.617,"y":0.398,"d":55},{"x":10.617,"y":0.353,"d":38},{"x":10.617,"y":0.308,"d":25},{"x":10.617,"y":0.263,"d":15},{"x":10.617,"y":0.218,"d":10},{"x":10.617,"y":0.173,"d":5},
{"x":10.66,"y":1.163,"d":3},{"x":10.66,"y":1.118,"d":4},{"x":10.66,"y":1.073,"d":6},{"x":10.66,"y":1.028,"d":10},{"x":10.66,"y":0.983,"d":14},{"x":10.66,"y":0.938,"d":18},{"x":10.66,"y":0.893,"d":27},{"x":10.66,"y":0.848,"d":32},{"x":10.66,"y":0.803,"d":48},{"x":10.66,"y":0.758,"d":62},{"x":10.66,"y":0.713,"d":75},{"x":10.66,"y":0.668,"d":85},{"x":10.66,"y":0.623,"d":92},{"x":10.66,"y":0.578,"d":92},{"x":10.66,"y":0.533,"d":80},{"x":10.66,"y":0.488,"d":70},{"x":10.66,"y":0.443,"d":55},{"x":10.66,"y":0.398,"d":40},{"x":10.66,"y":0.353,"d":28},{"x":10.66,"y":0.308,"d":18},{"x":10.66,"y":0.263,"d":12},{"x":10.66,"y":0.218,"d":6},
{"x":10.703,"y":1.163,"d":4},{"x":10.703,"y":1.118,"d":5},{"x":10.703,"y":1.073,"d":7},{"x":10.703,"y":1.028,"d":11},{"x":10.703,"y":0.983,"d":15},{"x":10.703,"y":0.938,"d":20},{"x":10.703,"y":0.893,"d":28},{"x":10.703,"y":0.848,"d":33},{"x":10.703,"y":0.803,"d":50},{"x":10.703,"y":0.758,"d":66},{"x":10.703,"y":0.713,"d":78},{"x":10.703,"y":0.668,"d":90},{"x":10.703,"y":0.623,"d":92},{"x":10.703,"y":0.578,"d":90},{"x":10.703,"y":0.533,"d":75},{"x":10.703,"y":0.488,"d":60},{"x":10.703,"y":0.443,"d":50},{"x":10.703,"y":0.398,"d":33},{"x":10.703,"y":0.353,"d":22},{"x":10.703,"y":0.308,"d":13},{"x":10.703,"y":0.263,"d":7},{"x":10.703,"y":0.218,"d":4},
{"x":10.746,"y":1.163,"d":4},{"x":10.746,"y":1.118,"d":5},{"x":10.746,"y":1.073,"d":6},{"x":10.746,"y":1.028,"d":12},{"x":10.746,"y":0.983,"d":15},{"x":10.746,"y":0.938,"d":20},{"x":10.746,"y":0.893,"d":30},{"x":10.746,"y":0.848,"d":35},{"x":10.746,"y":0.803,"d":55},{"x":10.746,"y":0.758,"d":70},{"x":10.746,"y":0.713,"d":85},{"x":10.746,"y":0.668,"d":92},{"x":10.746,"y":0.623,"d":90},{"x":10.746,"y":0.578,"d":90},{"x":10.746,"y":0.533,"d":70},{"x":10.746,"y":0.488,"d":55},{"x":10.746,"y":0.443,"d":45},{"x":10.746,"y":0.398,"d":30},{"x":10.746,"y":0.353,"d":15},{"x":10.746,"y":0.308,"d":8},{"x":10.746,"y":0.263,"d":4},
{"x":10.79,"y":1.163,"d":4},{"x":10.79,"y":1.118,"d":6},{"x":10.79,"y":1.073,"d":8},{"x":10.79,"y":1.028,"d":12},{"x":10.79,"y":0.983,"d":17},{"x":10.79,"y":0.938,"d":23},{"x":10.79,"y":0.893,"d":30},{"x":10.79,"y":0.848,"d":40},{"x":10.79,"y":0.803,"d":60},{"x":10.79,"y":0.758,"d":75},{"x":10.79,"y":0.713,"d":88},{"x":10.79,"y":0.668,"d":92},{"x":10.79,"y":0.623,"d":88},{"x":10.79,"y":0.578,"d":78},{"x":10.79,"y":0.533,"d":62},{"x":10.79,"y":0.488,"d":45},{"x":10.79,"y":0.443,"d":32},{"x":10.79,"y":0.398,"d":20},{"x":10.79,"y":0.353,"d":11},{"x":10.79,"y":0.308,"d":6},
{"x":10.833,"y":1.208,"d":4},{"x":10.833,"y":1.163,"d":5},{"x":10.833,"y":1.118,"d":6},{"x":10.833,"y":1.073,"d":9},{"x":10.833,"y":1.028,"d":13},{"x":10.833,"y":0.983,"d":18},{"x":10.833,"y":0.938,"d":25},{"x":10.833,"y":0.893,"d":33},{"x":10.833,"y":0.848,"d":45},{"x":10.833,"y":0.803,"d":65},{"x":10.833,"y":0.758,"d":82},{"x":10.833,"y":0.713,"d":92},{"x":10.833,"y":0.668,"d":90},{"x":10.833,"y":0.623,"d":80},{"x":10.833,"y":0.578,"d":72},{"x":10.833,"y":0.533,"d":50},{"x":10.833,"y":0.488,"d":35},{"x":10.833,"y":0.443,"d":22},{"x":10.833,"y":0.398,"d":13},{"x":10.833,"y":0.353,"d":8},{"x":10.833,"y":0.308,"d":4},
{"x":10.876,"y":1.208,"d":4},{"x":10.876,"y":1.163,"d":5},{"x":10.876,"y":1.118,"d":7},{"x":10.876,"y":1.073,"d":9},{"x":10.876,"y":1.028,"d":13},{"x":10.876,"y":0.983,"d":18},{"x":10.876,"y":0.938,"d":25},{"x":10.876,"y":0.893,"d":35},{"x":10.876,"y":0.848,"d":48},{"x":10.876,"y":0.803,"d":68},{"x":10.876,"y":0.758,"d":85},{"x":10.876,"y":0.713,"d":92},{"x":10.876,"y":0.668,"d":85},{"x":10.876,"y":0.623,"d":75},{"x":10.876,"y":0.578,"d":58},{"x":10.876,"y":0.533,"d":38},{"x":10.876,"y":0.488,"d":25},{"x":10.876,"y":0.443,"d":15},{"x":10.876,"y":0.398,"d":8},{"x":10.876,"y":0.353,"d":4},
{"x":10.919,"y":1.163,"d":5},{"x":10.919,"y":1.118,"d":7},{"x":10.919,"y":1.073,"d":10},{"x":10.919,"y":1.028,"d":13},{"x":10.919,"y":0.983,"d":20},{"x":10.919,"y":0.938,"d":28},{"x":10.919,"y":0.893,"d":38},{"x":10.919,"y":0.848,"d":50},{"x":10.919,"y":0.803,"d":72},{"x":10.919,"y":0.758,"d":88},{"x":10.919,"y":0.713,"d":92},{"x":10.919,"y":0.668,"d":80},{"x":10.919,"y":0.623,"d":68},{"x":10.919,"y":0.578,"d":48},{"x":10.919,"y":0.533,"d":30},{"x":10.919,"y":0.488,"d":17},{"x":10.919,"y":0.443,"d":9},{"x":10.919,"y":0.398,"d":5},
{"x":10.962,"y":1.163,"d":5},{"x":10.962,"y":1.118,"d":8},{"x":10.962,"y":1.073,"d":9},{"x":10.962,"y":1.028,"d":12},{"x":10.962,"y":0.983,"d":20},{"x":10.962,"y":0.938,"d":30},{"x":10.962,"y":0.893,"d":40},{"x":10.962,"y":0.848,"d":50},{"x":10.962,"y":0.803,"d":75},{"x":10.962,"y":0.758,"d":90},{"x":10.962,"y":0.713,"d":92},{"x":10.962,"y":0.668,"d":75},{"x":10.962,"y":0.623,"d":60},{"x":10.962,"y":0.578,"d":40},{"x":10.962,"y":0.533,"d":22},{"x":10.962,"y":0.488,"d":12},{"x":10.962,"y":0.443,"d":5},
{"x":11.005,"y":1.208,"d":4},{"x":11.005,"y":1.163,"d":5},{"x":11.005,"y":1.118,"d":8},{"x":11.005,"y":1.073,"d":12},{"x":11.005,"y":1.028,"d":18},{"x":11.005,"y":0.983,"d":25},{"x":11.005,"y":0.938,"d":35},{"x":11.005,"y":0.893,"d":45},{"x":11.005,"y":0.848,"d":65},{"x":11.005,"y":0.803,"d":88},{"x":11.005,"y":0.758,"d":92},{"x":11.005,"y":0.713,"d":80},{"x":11.005,"y":0.668,"d":70},{"x":11.005,"y":0.623,"d":50},{"x":11.005,"y":0.578,"d":30},{"x":11.005,"y":0.533,"d":20},{"x":11.005,"y":0.488,"d":10},{"x":11.005,"y":0.443,"d":5},
{"x":11.048,"y":1.253,"d":4},{"x":11.048,"y":1.208,"d":5},{"x":11.048,"y":1.163,"d":7},{"x":11.048,"y":1.118,"d":10},{"x":11.048,"y":1.073,"d":15},{"x":11.048,"y":1.028,"d":20},{"x":11.048,"y":0.983,"d":28},{"x":11.048,"y":0.938,"d":40},{"x":11.048,"y":0.893,"d":55},{"x":11.048,"y":0.848,"d":75},{"x":11.048,"y":0.803,"d":92},{"x":11.048,"y":0.758,"d":88},{"x":11.048,"y":0.713,"d":70},{"x":11.048,"y":0.668,"d":55},{"x":11.048,"y":0.623,"d":35},{"x":11.048,"y":0.578,"d":22},{"x":11.048,"y":0.533,"d":12},{"x":11.048,"y":0.488,"d":6},
{"x":11.092,"y":1.298,"d":3},{"x":11.092,"y":1.253,"d":5},{"x":11.092,"y":1.208,"d":7},{"x":11.092,"y":1.163,"d":9},{"x":11.092,"y":1.118,"d":12},{"x":11.092,"y":1.073,"d":18},{"x":11.092,"y":1.028,"d":25},{"x":11.092,"y":0.983,"d":35},{"x":11.092,"y":0.938,"d":45},{"x":11.092,"y":0.893,"d":65},{"x":11.092,"y":0.848,"d":90},{"x":11.092,"y":0.803,"d":92},{"x":11.092,"y":0.758,"d":75},{"x":11.092,"y":0.713,"d":62},{"x":11.092,"y":0.668,"d":42},{"x":11.092,"y":0.623,"d":25},{"x":11.092,"y":0.578,"d":15},{"x":11.092,"y":0.533,"d":8},{"x":11.092,"y":0.488,"d":4},
{"x":11.135,"y":1.298,"d":4},{"x":11.135,"y":1.253,"d":6},{"x":11.135,"y":1.208,"d":10},{"x":11.135,"y":1.163,"d":15},{"x":11.135,"y":1.118,"d":20},{"x":11.135,"y":1.073,"d":28},{"x":11.135,"y":1.028,"d":38},{"x":11.135,"y":0.983,"d":55},{"x":11.135,"y":0.938,"d":70},{"x":11.135,"y":0.893,"d":92},{"x":11.135,"y":0.848,"d":92},{"x":11.135,"y":0.803,"d":78},{"x":11.135,"y":0.758,"d":60},{"x":11.135,"y":0.713,"d":45},{"x":11.135,"y":0.668,"d":25},{"x":11.135,"y":0.623,"d":15},{"x":11.135,"y":0.578,"d":8},{"x":11.135,"y":0.533,"d":4},
{"x":11.178,"y":1.343,"d":3},{"x":11.178,"y":1.298,"d":5},{"x":11.178,"y":1.253,"d":8},{"x":11.178,"y":1.208,"d":15},{"x":11.178,"y":1.163,"d":25},{"x":11.178,"y":1.118,"d":30},{"x":11.178,"y":1.073,"d":40},{"x":11.178,"y":1.028,"d":55},{"x":11.178,"y":0.983,"d":75},{"x":11.178,"y":0.938,"d":90},{"x":11.178,"y":0.893,"d":92},{"x":11.178,"y":0.848,"d":92},{"x":11.178,"y":0.803,"d":70},{"x":11.178,"y":0.758,"d":55},{"x":11.178,"y":0.713,"d":35},{"x":11.178,"y":0.668,"d":20},{"x":11.178,"y":0.623,"d":12},{"x":11.178,"y":0.578,"d":5},
{"x":11.221,"y":1.388,"d":3},{"x":11.221,"y":1.343,"d":5},{"x":11.221,"y":1.298,"d":8},{"x":11.221,"y":1.253,"d":12},{"x":11.221,"y":1.208,"d":20},{"x":11.221,"y":1.163,"d":28},{"x":11.221,"y":1.118,"d":35},{"x":11.221,"y":1.073,"d":45},{"x":11.221,"y":1.028,"d":60},{"x":11.221,"y":0.983,"d":85},{"x":11.221,"y":0.938,"d":92},{"x":11.221,"y":0.893,"d":92},{"x":11.221,"y":0.848,"d":85},{"x":11.221,"y":0.803,"d":60},{"x":11.221,"y":0.758,"d":40},{"x":11.221,"y":0.713,"d":25},{"x":11.221,"y":0.668,"d":14},{"x":11.221,"y":0.623,"d":8},{"x":11.221,"y":0.578,"d":4},
{"x":11.264,"y":1.433,"d":3},{"x":11.264,"y":1.388,"d":5},{"x":11.264,"y":1.343,"d":7},{"x":11.264,"y":1.298,"d":10},{"x":11.264,"y":1.253,"d":15},{"x":11.264,"y":1.208,"d":25},{"x":11.264,"y":1.163,"d":30},{"x":11.264,"y":1.118,"d":40},{"x":11.264,"y":1.073,"d":55},{"x":11.264,"y":1.028,"d":75},{"x":11.264,"y":0.983,"d":92},{"x":11.264,"y":0.938,"d":92},{"x":11.264,"y":0.893,"d":88},{"x":11.264,"y":0.848,"d":60},{"x":11.264,"y":0.803,"d":45},{"x":11.264,"y":0.758,"d":28},{"x":11.264,"y":0.713,"d":15},{"x":11.264,"y":0.668,"d":9},{"x":11.264,"y":0.623,"d":5},
{"x":11.307,"y":1.478,"d":3},{"x":11.307,"y":1.433,"d":5},{"x":11.307,"y":1.388,"d":7},{"x":11.307,"y":1.343,"d":10},{"x":11.307,"y":1.298,"d":15},{"x":11.307,"y":1.253,"d":25},{"x":11.307,"y":1.208,"d":35},{"x":11.307,"y":1.163,"d":45},{"x":11.307,"y":1.118,"d":65},{"x":11.307,"y":1.073,"d":85},{"x":11.307,"y":1.028,"d":92},{"x":11.307,"y":0.983,"d":92},{"x":11.307,"y":0.938,"d":88},{"x":11.307,"y":0.893,"d":65},{"x":11.307,"y":0.848,"d":40},{"x":11.307,"y":0.803,"d":28},{"x":11.307,"y":0.758,"d":17},{"x":11.307,"y":0.713,"d":9},{"x":11.307,"y":0.668,"d":5},{"x":11.307,"y":0.623,"d":3},
{"x":11.35,"y":1.523,"d":3},{"x":11.35,"y":1.478,"d":5},{"x":11.35,"y":1.433,"d":7},{"x":11.35,"y":1.388,"d":10},{"x":11.35,"y":1.343,"d":15},{"x":11.35,"y":1.298,"d":22},{"x":11.35,"y":1.253,"d":30},{"x":11.35,"y":1.208,"d":40},{"x":11.35,"y":1.163,"d":50},{"x":11.35,"y":1.118,"d":80},{"x":11.35,"y":1.073,"d":92},{"x":11.35,"y":1.028,"d":92},{"x":11.35,"y":0.983,"d":85},{"x":11.35,"y":0.938,"d":70},{"x":11.35,"y":0.893,"d":50},{"x":11.35,"y":0.848,"d":32},{"x":11.35,"y":0.803,"d":18},{"x":11.35,"y":0.758,"d":10},{"x":11.35,"y":0.713,"d":6},{"x":11.35,"y":0.668,"d":4},
{"x":11.393,"y":1.523,"d":3},{"x":11.393,"y":1.478,"d":5},{"x":11.393,"y":1.433,"d":8},{"x":11.393,"y":1.388,"d":12},{"x":11.393,"y":1.343,"d":15},{"x":11.393,"y":1.298,"d":25},{"x":11.393,"y":1.253,"d":30},{"x":11.393,"y":1.208,"d":45},{"x":11.393,"y":1.163,"d":55},{"x":11.393,"y":1.118,"d":85},{"x":11.393,"y":1.073,"d":90},{"x":11.393,"y":1.028,"d":92},{"x":11.393,"y":0.983,"d":80},{"x":11.393,"y":0.938,"d":75},{"x":11.393,"y":0.893,"d":45},{"x":11.393,"y":0.848,"d":35},{"x":11.393,"y":0.803,"d":20},{"x":11.393,"y":0.758,"d":10},{"x":11.393,"y":0.713,"d":5},{"x":11.393,"y":0.668,"d":3},
{"x":11.437,"y":1.433,"d":10},{"x":11.437,"y":1.388,"d":15},{"x":11.437,"y":1.343,"d":20},{"x":11.437,"y":1.298,"d":30},{"x":11.437,"y":1.253,"d":45},{"x":11.437,"y":1.208,"d":55},{"x":11.437,"y":1.163,"d":75},{"x":11.437,"y":1.118,"d":90},{"x":11.437,"y":1.073,"d":92},{"x":11.437,"y":1.028,"d":88},{"x":11.437,"y":0.983,"d":55},{"x":11.437,"y":0.938,"d":50},{"x":11.437,"y":0.893,"d":30},{"x":11.437,"y":0.848,"d":22},{"x":11.437,"y":0.803,"d":12},{"x":11.437,"y":0.758,"d":7},{"x":11.437,"y":0.713,"d":4},
{"x":11.48,"y":1.478,"d":8},{"x":11.48,"y":1.433,"d":12},{"x":11.48,"y":1.388,"d":18},{"x":11.48,"y":1.343,"d":22},{"x":11.48,"y":1.298,"d":35},{"x":11.48,"y":1.253,"d":45},{"x":11.48,"y":1.208,"d":60},{"x":11.48,"y":1.163,"d":80},{"x":11.48,"y":1.118,"d":92},{"x":11.48,"y":1.073,"d":92},{"x":11.48,"y":1.028,"d":75},{"x":11.48,"y":0.983,"d":60},{"x":11.48,"y":0.938,"d":40},{"x":11.48,"y":0.893,"d":30},{"x":11.48,"y":0.848,"d":17},{"x":11.48,"y":0.803,"d":12},{"x":11.48,"y":0.758,"d":7},{"x":11.48,"y":0.713,"d":4},
{"x":11.523,"y":1.568,"d":5},{"x":11.523,"y":1.523,"d":7},{"x":11.523,"y":1.478,"d":10},{"x":11.523,"y":1.433,"d":15},{"x":11.523,"y":1.388,"d":25},{"x":11.523,"y":1.343,"d":30},{"x":11.523,"y":1.298,"d":40},{"x":11.523,"y":1.253,"d":50},{"x":11.523,"y":1.208,"d":75},{"x":11.523,"y":1.163,"d":92},{"x":11.523,"y":1.118,"d":85},{"x":11.523,"y":1.073,"d":65},{"x":11.523,"y":1.028,"d":65},{"x":11.523,"y":0.983,"d":35},{"x":11.523,"y":0.938,"d":22},{"x":11.523,"y":0.893,"d":20},{"x":11.523,"y":0.848,"d":10},{"x":11.523,"y":0.803,"d":8},{"x":11.523,"y":0.758,"d":6},
{"x":11.566,"y":1.613,"d":5},{"x":11.566,"y":1.568,"d":8},{"x":11.566,"y":1.523,"d":10},{"x":11.566,"y":1.478,"d":15},{"x":11.566,"y":1.433,"d":25},{"x":11.566,"y":1.388,"d":35},{"x":11.566,"y":1.343,"d":50},{"x":11.566,"y":1.298,"d":60},{"x":11.566,"y":1.253,"d":92},{"x":11.566,"y":1.208,"d":92},{"x":11.566,"y":1.163,"d":70},{"x":11.566,"y":1.118,"d":80},{"x":11.566,"y":1.073,"d":25},{"x":11.566,"y":1.028,"d":20},{"x":11.566,"y":0.983,"d":25},{"x":11.566,"y":0.938,"d":15},{"x":11.566,"y":0.893,"d":10},{"x":11.566,"y":0.848,"d":6},{"x":11.566,"y":0.803,"d":5},
{"x":11.609,"y":1.703,"d":4},{"x":11.609,"y":1.658,"d":8},{"x":11.609,"y":1.613,"d":12},{"x":11.609,"y":1.568,"d":20},{"x":11.609,"y":1.523,"d":25},{"x":11.609,"y":1.478,"d":30},{"x":11.609,"y":1.433,"d":50},{"x":11.609,"y":1.388,"d":55},{"x":11.609,"y":1.343,"d":70},{"x":11.609,"y":1.298,"d":92},{"x":11.609,"y":1.253,"d":88},{"x":11.609,"y":1.208,"d":92},{"x":11.609,"y":1.163,"d":55},{"x":11.609,"y":1.118,"d":65},{"x":11.609,"y":1.073,"d":22},{"x":11.609,"y":1.028,"d":25},{"x":11.609,"y":0.983,"d":20},{"x":11.609,"y":0.938,"d":12},{"x":11.609,"y":0.893,"d":8},{"x":11.609,"y":0.848,"d":6},{"x":11.609,"y":0.803,"d":5},
{"x":11.652,"y":1.703,"d":6},{"x":11.652,"y":1.658,"d":10},{"x":11.652,"y":1.613,"d":20},{"x":11.652,"y":1.568,"d":22},{"x":11.652,"y":1.523,"d":28},{"x":11.652,"y":1.478,"d":55},{"x":11.652,"y":1.433,"d":55},{"x":11.652,"y":1.388,"d":70},{"x":11.652,"y":1.343,"d":90},{"x":11.652,"y":1.298,"d":92},{"x":11.652,"y":1.253,"d":92},{"x":11.652,"y":1.208,"d":50},{"x":11.652,"y":1.163,"d":50},{"x":11.652,"y":1.118,"d":25},{"x":11.652,"y":1.073,"d":20},{"x":11.652,"y":1.028,"d":15},{"x":11.652,"y":0.983,"d":25},{"x":11.652,"y":0.938,"d":10},{"x":11.652,"y":0.893,"d":7},{"x":11.652,"y":0.848,"d":6},{"x":11.652,"y":0.803,"d":5},
{"x":11.695,"y":1.748,"d":8},{"x":11.695,"y":1.703,"d":8},{"x":11.695,"y":1.658,"d":25},{"x":11.695,"y":1.613,"d":18},{"x":11.695,"y":1.568,"d":30},{"x":11.695,"y":1.523,"d":45},{"x":11.695,"y":1.478,"d":60},{"x":11.695,"y":1.433,"d":85},{"x":11.695,"y":1.388,"d":90},{"x":11.695,"y":1.343,"d":92},{"x":11.695,"y":1.298,"d":60},{"x":11.695,"y":1.253,"d":90},{"x":11.695,"y":1.208,"d":55},{"x":11.695,"y":1.163,"d":75},{"x":11.695,"y":1.118,"d":30},{"x":11.695,"y":1.073,"d":18},{"x":11.695,"y":1.028,"d":10},{"x":11.695,"y":0.983,"d":15},{"x":11.695,"y":0.938,"d":15},{"x":11.695,"y":0.893,"d":5},{"x":11.695,"y":0.848,"d":8},
{"x":11.738,"y":1.793,"d":5},{"x":11.738,"y":1.748,"d":12},{"x":11.738,"y":1.703,"d":18},{"x":11.738,"y":1.658,"d":12},{"x":11.738,"y":1.613,"d":25},{"x":11.738,"y":1.568,"d":55},{"x":11.738,"y":1.523,"d":70},{"x":11.738,"y":1.478,"d":85},{"x":11.738,"y":1.433,"d":70},{"x":11.738,"y":1.388,"d":92},{"x":11.738,"y":1.343,"d":60},{"x":11.738,"y":1.298,"d":55},{"x":11.738,"y":1.253,"d":60},{"x":11.738,"y":1.208,"d":65},{"x":11.738,"y":1.163,"d":35},{"x":11.738,"y":1.118,"d":15},{"x":11.738,"y":1.073,"d":15},{"x":11.738,"y":1.028,"d":15},{"x":11.738,"y":0.983,"d":20},{"x":11.738,"y":0.938,"d":10},{"x":11.738,"y":0.893,"d":5},{"x":11.738,"y":0.848,"d":5},{"x":11.738,"y":0.803,"d":5},
{"x":11.782,"y":1.838,"d":3},{"x":11.782,"y":1.793,"d":8},{"x":11.782,"y":1.748,"d":20},{"x":11.782,"y":1.703,"d":22},{"x":11.782,"y":1.658,"d":75},{"x":11.782,"y":1.613,"d":28},{"x":11.782,"y":1.568,"d":60},{"x":11.782,"y":1.523,"d":80},{"x":11.782,"y":1.478,"d":60},{"x":11.782,"y":1.433,"d":50},{"x":11.782,"y":1.388,"d":45},{"x":11.782,"y":1.343,"d":30},{"x":11.782,"y":1.298,"d":35},{"x":11.782,"y":1.253,"d":40},{"x":11.782,"y":1.208,"d":25},{"x":11.782,"y":1.163,"d":10},{"x":11.782,"y":1.118,"d":25},{"x":11.782,"y":1.073,"d":20},{"x":11.782,"y":1.028,"d":25},{"x":11.782,"y":0.983,"d":28},{"x":11.782,"y":0.938,"d":20},{"x":11.782,"y":0.893,"d":25},{"x":11.782,"y":0.848,"d":3},
{"x":11.825,"y":1.883,"d":8},{"x":11.825,"y":1.838,"d":8},{"x":11.825,"y":1.793,"d":15},{"x":11.825,"y":1.748,"d":10},{"x":11.825,"y":1.703,"d":12},{"x":11.825,"y":1.658,"d":30},{"x":11.825,"y":1.613,"d":30},{"x":11.825,"y":1.568,"d":70},{"x":11.825,"y":1.523,"d":55},{"x":11.825,"y":1.478,"d":55},{"x":11.825,"y":1.433,"d":45},{"x":11.825,"y":1.388,"d":35},{"x":11.825,"y":1.343,"d":25},{"x":11.825,"y":1.298,"d":25},{"x":11.825,"y":1.253,"d":30},{"x":11.825,"y":1.208,"d":30},{"x":11.825,"y":1.163,"d":30},{"x":11.825,"y":1.118,"d":30},{"x":11.825,"y":1.073,"d":10},{"x":11.825,"y":1.028,"d":8},{"x":11.825,"y":0.983,"d":12},{"x":11.825,"y":0.938,"d":15},{"x":11.825,"y":0.848,"d":8},{"x":11.825,"y":0.803,"d":5},{"x":11.825,"y":0.758,"d":4},
{"x":11.868,"y":1.883,"d":5},{"x":11.868,"y":1.838,"d":10},{"x":11.868,"y":1.793,"d":12},{"x":11.868,"y":1.703,"d":4},{"x":11.868,"y":1.658,"d":55},{"x":11.868,"y":1.613,"d":100},{"x":11.868,"y":1.568,"d":70},{"x":11.868,"y":1.523,"d":55},{"x":11.868,"y":1.478,"d":50},{"x":11.868,"y":1.388,"d":25},{"x":11.868,"y":1.343,"d":20},{"x":11.868,"y":1.298,"d":5},{"x":11.868,"y":1.253,"d":8},{"x":11.868,"y":1.208,"d":10},{"x":11.868,"y":1.163,"d":35},{"x":11.868,"y":1.118,"d":20},{"x":11.868,"y":1.073,"d":12},{"x":11.868,"y":1.028,"d":10},{"x":11.868,"y":0.983,"d":8},{"x":11.868,"y":0.938,"d":15},{"x":11.868,"y":0.893,"d":20},{"x":11.868,"y":0.848,"d":10},{"x":11.868,"y":0.803,"d":7},{"x":11.868,"y":0.758,"d":15},{"x":11.868,"y":0.713,"d":20},{"x":11.868,"y":0.443,"d":10},
{"x":11.911,"y":1.928,"d":18},{"x":11.911,"y":1.748,"d":30},{"x":11.911,"y":1.658,"d":65},{"x":11.911,"y":1.613,"d":45},{"x":11.911,"y":1.568,"d":90},{"x":11.911,"y":1.523,"d":90},{"x":11.911,"y":1.478,"d":75},{"x":11.911,"y":1.433,"d":60},{"x":11.911,"y":1.388,"d":50},{"x":11.911,"y":1.343,"d":30},{"x":11.911,"y":1.298,"d":5},{"x":11.911,"y":1.253,"d":15},{"x":11.911,"y":1.208,"d":15},{"x":11.911,"y":1.163,"d":45},{"x":11.911,"y":1.118,"d":30},{"x":11.911,"y":1.073,"d":12},{"x":11.911,"y":1.028,"d":12},{"x":11.911,"y":0.983,"d":30},{"x":11.911,"y":0.938,"d":12},{"x":11.911,"y":0.893,"d":5},{"x":11.911,"y":0.758,"d":15},{"x":11.911,"y":0.578,"d":15},{"x":11.911,"y":0.533,"d":15},{"x":11.911,"y":-0.097,"d":17},
{"x":11.954,"y":1.928,"d":18},{"x":11.954,"y":1.838,"d":30},{"x":11.954,"y":1.703,"d":10},{"x":11.954,"y":1.613,"d":30},{"x":11.954,"y":1.568,"d":30},{"x":11.954,"y":1.523,"d":50},{"x":11.954,"y":1.478,"d":45},{"x":11.954,"y":1.433,"d":30},{"x":11.954,"y":1.388,"d":100},{"x":11.954,"y":1.343,"d":25},{"x":11.954,"y":1.298,"d":30},{"x":11.954,"y":1.253,"d":15},{"x":11.954,"y":1.163,"d":40},{"x":11.954,"y":1.118,"d":8},{"x":11.954,"y":1.073,"d":12},{"x":11.954,"y":1.028,"d":12},{"x":11.954,"y":0.983,"d":15},{"x":11.954,"y":0.758,"d":5},{"x":11.954,"y":0.398,"d":15},{"x":11.954,"y":0.353,"d":15},
{"x":11.997,"y":1.928,"d":50},{"x":11.997,"y":1.748,"d":50},{"x":11.997,"y":1.658,"d":50},{"x":11.997,"y":1.613,"d":45},{"x":11.997,"y":1.568,"d":50},{"x":11.997,"y":1.523,"d":40},{"x":11.997,"y":1.478,"d":100},{"x":11.997,"y":1.388,"d":100},{"x":11.997,"y":1.028,"d":50},{"x":11.997,"y":0.938,"d":100},{"x":11.997,"y":0.893,"d":50},{"x":11.997,"y":0.713,"d":100},{"x":11.997,"y":0.623,"d":50},{"x":11.997,"y":0.578,"d":50},{"x":11.997,"y":0.488,"d":50},{"x":11.997,"y":0.353,"d":50},
{"x":12.04,"y":1.613,"d":25},{"x":12.04,"y":1.568,"d":25},{"x":12.04,"y":1.523,"d":100},{"x":12.04,"y":1.478,"d":5},{"x":12.04,"y":1.433,"d":30},{"x":12.04,"y":1.388,"d":30},{"x":12.04,"y":1.253,"d":25},{"x":12.04,"y":1.163,"d":75},{"x":12.04,"y":0.803,"d":30},{"x":12.04,"y":0.713,"d":30},
{"x":12.083,"y":1.568,"d":100},{"x":12.083,"y":1.478,"d":100},{"x":12.083,"y":1.433,"d":30},{"x":12.083,"y":1.388,"d":100},{"x":12.083,"y":1.253,"d":45},{"x":12.083,"y":1.073,"d":100},{"x":12.083,"y":1.028,"d":45},{"x":12.083,"y":0.938,"d":100},{"x":12.083,"y":0.803,"d":50},{"x":12.083,"y":0.758,"d":50},
{"x":12.127,"y":1.748,"d":50},{"x":12.127,"y":1.568,"d":100},{"x":12.127,"y":1.298,"d":50},{"x":12.127,"y":1.208,"d":50},{"x":12.127,"y":0.803,"d":50},{"x":12.127,"y":0.758,"d":50},{"x":12.127,"y":0.668,"d":50},{"x":12.127,"y":0.488,"d":50},
{"x":12.17,"y":1.703,"d":50},{"x":12.17,"y":1.343,"d":50},{"x":12.17,"y":1.028,"d":40},{"x":12.17,"y":0.893,"d":50},{"x":12.17,"y":0.623,"d":100},
{"x":12.213,"y":1.433,"d":100},{"x":12.213,"y":1.163,"d":100},{"x":12.213,"y":1.118,"d":100},{"x":12.213,"y":0.983,"d":100},{"x":12.213,"y":0.758,"d":100},{"x":12.213,"y":0.578,"d":100},{"x":12.213,"y":0.488,"d":100},
{"x":12.256,"y":1.028,"d":100},{"x":12.256,"y":0.623,"d":100},{"x":12.256,"y":0.578,"d":100},
{"x":12.299,"y":1.433,"d":100},{"x":12.299,"y":1.253,"d":100},{"x":12.299,"y":1.163,"d":100},{"x":12.299,"y":0.848,"d":100},{"x":12.299,"y":0.758,"d":100},{"x":12.299,"y":0.623,"d":100},
{"x":12.342,"y":1.343,"d":50},{"x":12.342,"y":0.848,"d":50},{"x":12.342,"y":0.623,"d":50},
{"x":12.385,"y":1.703,"d":100},{"x":12.385,"y":1.073,"d":100},{"x":12.385,"y":1.028,"d":100},{"x":12.385,"y":0.983,"d":100},{"x":12.385,"y":0.758,"d":100},{"x":12.385,"y":0.668,"d":100},{"x":12.385,"y":0.443,"d":100}
]},"mark":{"type":"rect","width":9.2,"height":8.6},"encoding":{"x":{"field":"x","type":"quantitative","scale":{"domain":[9,12.45],"nice":false,"zero":false},"axis":{"orient":"bottom","zindex":1,"title":"Stellar Mass [M☉]","titleFont":"Liberation Serif","titleFontWeight":"normal","titleFontSize":28,"titleColor":"#000","titlePadding":-8,"values":[9,9.301,9.477,9.602,9.699,9.778,9.845,9.903,9.954,10,10.301,10.477,10.602,10.699,10.778,10.845,10.903,10.954,11,11.301,11.477,11.602,11.699,11.778,11.845,11.903,11.954,12,12.301],"grid":false,"domain":false,"tickColor":"#222","tickWidth":1.4,"tickSize":{"condition":{"test":"datum.value%1==0","value":-14},"value":-7},"labelExpr":"datum.value%1==0?'10':''","labelOffset":{"condition":[{"test":"datum.value==9","value":-3},{"test":"datum.value==11","value":-7}],"value":-9.5},"labelFont":"Liberation Serif","labelFontSize":28,"labelColor":"#000","labelPadding":31,"labelOverlap":false,"labelFlush":false}},"y":{"field":"y","type":"quantitative","scale":{"domain":[-0.524,2.176],"nice":false,"zero":false},"axis":{"orient":"left","zindex":1,"title":"3D Half-Mass Radius [kpc]","titleFont":"Liberation Serif","titleFontWeight":"normal","titleFontSize":29.7,"titleColor":"#000","titlePadding":10,"values":[-0.398,-0.301,-0.222,-0.155,-0.097,-0.046,0,0.301,0.477,0.602,0.699,0.778,0.845,0.903,0.954,1,1.301,1.477,1.602,1.699,1.778,1.845,1.903,1.954,2],"grid":false,"domain":false,"tickColor":"#222","tickWidth":1.4,"tickSize":{"condition":{"test":"datum.value%1==0","value":-14},"value":-7},"labelExpr":"datum.value==0?'1':datum.value==1?'10':datum.value==2?'100':''","labelFont":"Liberation Serif","labelFontSize":28,"labelColor":"#000","labelPadding":23,"labelOverlap":false,"labelFlush":false}},"color":{"field":"d","type":"quantitative","legend":null,"scale":{"domain":[0,100],"range":["#ffffff","#111111"]}}}},{"data":{"values":[{"x":9.05,"r":0.313},{"x":9.15,"r":0.326},{"x":9.25,"r":0.326},{"x":9.35,"r":0.334},{"x":9.45,"r":0.349},{"x":9.55,"r":0.362},{"x":9.65,"r":0.364},{"x":9.75,"r":0.371},{"x":9.85,"r":0.382},{"x":9.95,"r":0.398},{"x":10.05,"r":0.401},{"x":10.15,"r":0.422},{"x":10.25,"r":0.446},{"x":10.35,"r":0.476},{"x":10.45,"r":0.506},{"x":10.55,"r":0.544},{"x":10.65,"r":0.589},{"x":10.75,"r":0.64},{"x":10.85,"r":0.698},{"x":10.95,"r":0.758},{"x":11.05,"r":0.817},{"x":11.15,"r":0.88},{"x":11.25,"r":0.956},{"x":11.35,"r":1.031},{"x":11.45,"r":1.111},{"x":11.55,"r":1.199},{"x":11.65,"r":1.277},{"x":11.75,"r":1.368},{"x":11.85,"r":1.428},{"x":11.95,"r":1.451},{"x":12.05,"r":1.338},{"x":12.15,"r":1.026},{"x":12.25,"r":0.986},{"x":12.35,"r":0.809},{"x":12.45,"r":0.671}]},"mark":{"type":"point","filled":true,"color":"#ff0000","size":190,"opacity":1,"clip":false},"encoding":{"x":{"field":"x","type":"quantitative","axis":null},"y":{"field":"r","type":"quantitative","axis":null}}},{"data":{"values":[{"x":9,"r":0.356},{"x":9.25,"r":0.364},{"x":9.5,"r":0.376},{"x":9.75,"r":0.392},{"x":10,"r":0.412},{"x":10.25,"r":0.455},{"x":10.35,"r":0.489},{"x":10.45,"r":0.524},{"x":10.55,"r":0.558},{"x":10.65,"r":0.6},{"x":10.75,"r":0.645},{"x":10.85,"r":0.7},{"x":10.95,"r":0.758},{"x":11.05,"r":0.818},{"x":11.15,"r":0.885},{"x":11.25,"r":0.955},{"x":11.35,"r":1.035},{"x":11.45,"r":1.118},{"x":11.55,"r":1.2},{"x":11.65,"r":1.287},{"x":11.75,"r":1.375},{"x":11.85,"r":1.467},{"x":11.95,"r":1.562},{"x":12.05,"r":1.658},{"x":12.15,"r":1.755},{"x":12.25,"r":1.849},{"x":12.35,"r":1.942},{"x":12.45,"r":2.035}]},"mark":{"type":"line","color":"#0000ff","strokeWidth":4.5,"clip":true},"encoding":{"x":{"field":"x","type":"quantitative","axis":{"orient":"top","zindex":1,"title":null,"labels":false,"values":[9.301,9.477,9.602,9.699,9.778,9.845,9.903,9.954,10,10.301,10.477,10.602,10.699,10.778,10.845,10.903,10.954,11,11.301,11.477,11.602,11.699,11.778,11.845,11.903,11.954,12,12.301],"grid":false,"domain":false,"tickColor":"#222","tickWidth":1.4,"tickSize":{"condition":{"test":"datum.value%1==0","value":-14},"value":-7}}},"y":{"field":"r","type":"quantitative","axis":{"orient":"right","zindex":1,"title":null,"labels":false,"values":[-0.398,-0.301,-0.222,-0.155,-0.097,-0.046,0,0.301,0.477,0.602,0.699,0.778,0.845,0.903,0.954,1,1.301,1.477,1.602,1.699,1.778,1.845,1.903,1.954,2],"grid":false,"domain":false,"tickColor":"#222","tickWidth":1.4,"tickSize":{"condition":{"test":"datum.value%1==0","value":-14},"value":-7}}}}},{"data":{"values":[{"x":9.354,"y":1.849}]},"mark":{"type":"point","filled":true,"color":"#ff0000","size":196,"opacity":1},"encoding":{"x":{"field":"x","type":"quantitative","axis":null},"y":{"field":"y","type":"quantitative","axis":null}}},{"data":{"values":[{"x":9.217,"y":1.7},{"x":9.491,"y":1.7}]},"mark":{"type":"line","color":"#0000ff","strokeWidth":4.5},"encoding":{"x":{"field":"x","type":"quantitative","axis":null},"y":{"field":"y","type":"quantitative","axis":null}}},{"data":{"values":[{"x":9.178,"y":1.986,"t":"All Galaxies"},{"x":9.564,"y":1.8,"t":"Median"},{"x":9.564,"y":1.649,"t":"Fit"}]},"mark":{"type":"text","align":"left","baseline":"alphabetic","fontSize":29,"font":"Liberation Serif","color":"#000"},"encoding":{"x":{"field":"x","type":"quantitative","axis":null},"y":{"field":"y","type":"quantitative","axis":null},"text":{"field":"t"}}},{"data":{"values":[{"x":9.049,"y":-0.524,"t":"9"},{"x":10.029,"y":-0.524,"t":"10"},{"x":11.034,"y":-0.524,"t":"11"},{"x":12.024,"y":-0.524,"t":"12"}]},"mark":{"type":"text","align":"left","baseline":"alphabetic","dy":22,"fontSize":20,"font":"Liberation Serif","color":"#000"},"encoding":{"x":{"field":"x","type":"quantitative","axis":null},"y":{"field":"y","type":"quantitative","axis":null},"text":{"field":"t"}}}]}
